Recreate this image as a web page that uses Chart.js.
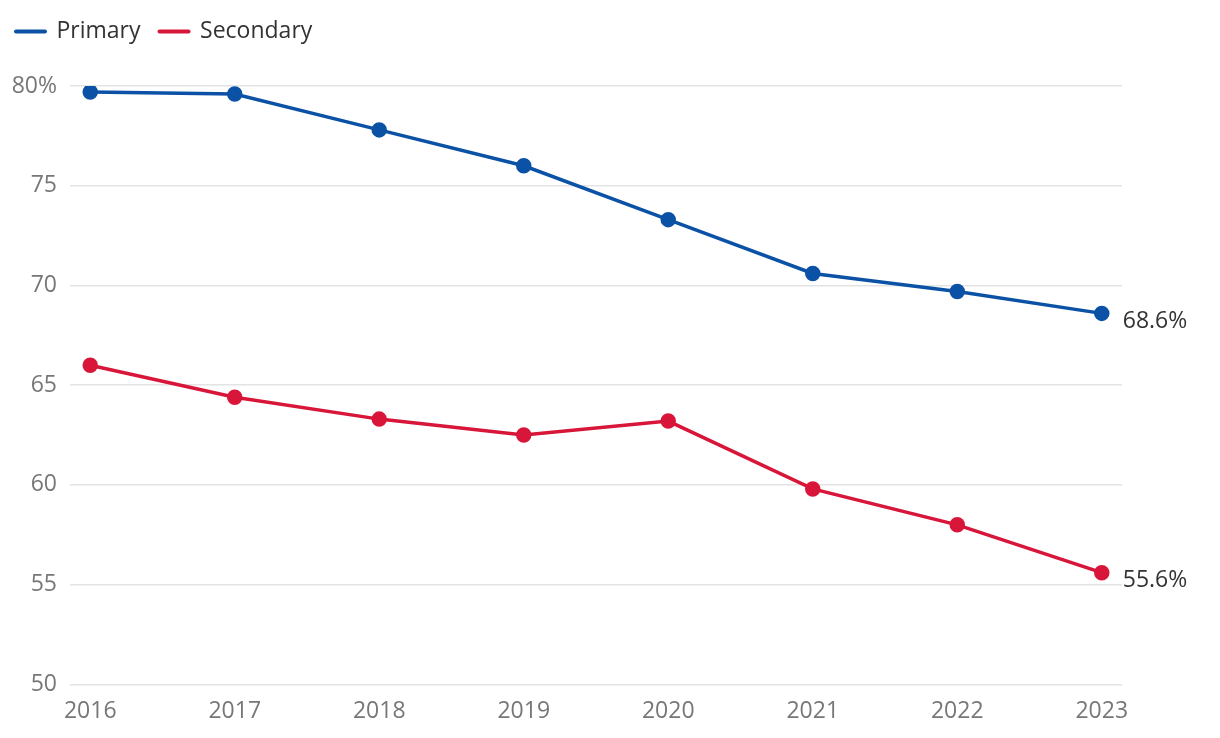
<!DOCTYPE html>
<html>
<head>
<meta charset="utf-8">
<script src="https://cdn.jsdelivr.net/npm/chart.js@4/dist/chart.umd.min.js"></script>
<style>
  body { margin: 0; background: #fff; }
  #wrap { width: 1220px; height: 738px; position: relative; }
</style>
</head>
<body>
<div id="wrap"><canvas id="chart"></canvas></div>
<script>
const years = [2016, 2017, 2018, 2019, 2020, 2021, 2022, 2023];
const primary = [79.7, 79.6, 77.8, 76.0, 73.3, 70.6, 69.7, 68.6];
const secondary = [66.0, 64.4, 63.3, 62.5, 63.2, 59.8, 58.0, 55.6];
const yTicks = [50, 55, 60, 65, 70, 75, 80];

const FONT = "'Open Sans', 'Noto Sans', sans-serif";
const BLUE = "#0b52a6";
const RED = "#d8163a";

// extra room under the legend
const legendSpace = {
  id: "legendSpace",
  beforeInit(chart) {
    const orig = chart.legend.fit;
    chart.legend.fit = function () {
      orig.bind(chart.legend)();
      this.height += 33;
    };
  }
};

// last-value labels at the end of each line
const endLabels = {
  id: "endLabels",
  afterDatasetsDraw(chart) {
    const ctx = chart.ctx;
    ctx.save();
    ctx.font = "23px " + FONT;
    ctx.fillStyle = "#333";
    ctx.textAlign = "left";
    ctx.textBaseline = "middle";
    chart.data.datasets.forEach((ds, i) => {
      const meta = chart.getDatasetMeta(i);
      const pt = meta.data[meta.data.length - 1];
      const v = ds.data[ds.data.length - 1].y;
      ctx.fillText(v.toFixed(1) + "%", pt.x + 21, pt.y + 8);
    });
    ctx.restore();
  }
};

new Chart("chart", {
  type: "line",
  data: {
    datasets: [
      {
        label: "Primary",
        data: years.map((y, i) => ({ x: y, y: primary[i] })),
        borderColor: BLUE,
        backgroundColor: BLUE,
        borderWidth: 3.5,
        pointRadius: 6,
        pointHoverRadius: 6,
        fill: false,
        tension: 0
      },
      {
        label: "Secondary",
        data: years.map((y, i) => ({ x: y, y: secondary[i] })),
        borderColor: RED,
        backgroundColor: RED,
        borderWidth: 3.5,
        pointRadius: 6,
        pointHoverRadius: 6,
        fill: false,
        tension: 0
      }
    ]
  },
  options: {
    responsive: true,
    maintainAspectRatio: false,
    animation: false,
    layout: { padding: { left: -3, right: 98, top: 1, bottom: 8 } },
    plugins: {
      tooltip: { enabled: false },
      legend: {
        display: true,
        position: "top",
        align: "start",
        labels: {
          font: { family: FONT, size: 23 },
          color: "#333",
          usePointStyle: true,
          pointStyle: "line",
          pointStyleWidth: 29,
          padding: 19,
          generateLabels(chart) {
            return chart.data.datasets.map((ds, i) => ({
              text: ds.label,
              fillStyle: ds.borderColor,
              strokeStyle: ds.borderColor,
              lineWidth: 4,
              lineCap: "round",
              pointStyle: "line",
              fontColor: "#333",
              datasetIndex: i
            }));
          }
        }
      }
    },
    scales: {
      x: {
        type: "linear",
        min: years[0] - 0.14,
        max: years[years.length - 1] + 0.14,
        afterBuildTicks(scale) {
          scale.ticks = years.map(v => ({ value: v }));
        },
        grid: { display: false },
        border: { display: false },
        ticks: {
          font: { family: FONT, size: 23 },
          color: "#777",
          padding: 5,
          maxRotation: 0,
          autoSkip: false,
          callback: v => String(v)
        }
      },
      y: {
        min: 50,
        max: 80,
        afterBuildTicks(scale) {
          scale.ticks = yTicks.map(v => ({ value: v }));
        },
        afterFit(scale) { scale.width = 73; },
        grid: { color: "#e3e3e3", lineWidth: 1.5, drawTicks: false },
        border: { display: false },
        ticks: {
          font: { family: FONT, size: 23 },
          color: "#777",
          padding: 13,
          callback: v => v === 80 ? "80%" : String(v)
        }
      }
    }
  },
  plugins: [legendSpace, endLabels]
});
</script>
</body>
</html>
